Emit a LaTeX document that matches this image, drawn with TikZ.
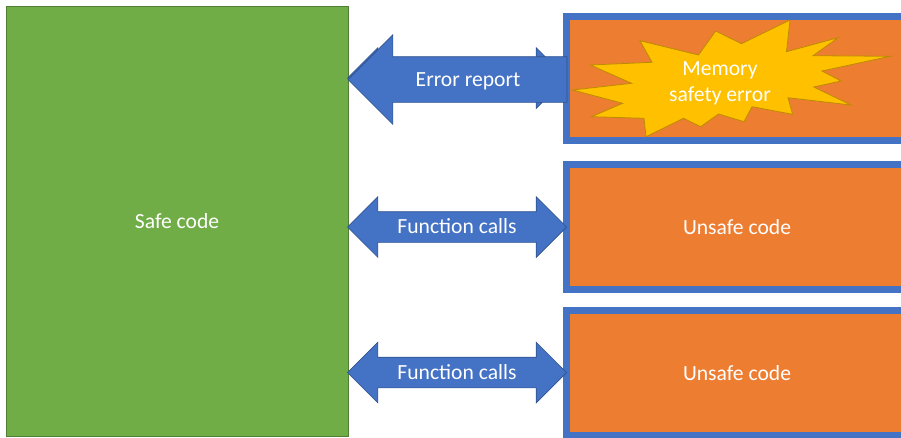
\documentclass[tikz,border=0pt]{standalone}
\usepackage{fontspec}
\setmainfont{Carlito}
\usetikzlibrary{shapes.arrows}
\definecolor{safegreen}{HTML}{70AD47}
\definecolor{safeedge}{HTML}{507E32}
\definecolor{unsafeorange}{HTML}{ED7D31}
\definecolor{callblue}{HTML}{4472C4}
\definecolor{calledge}{HTML}{2F528F}
\definecolor{starfill}{HTML}{FFC000}
\definecolor{staredge}{HTML}{BC8C00}
\tikzset{
    label text/.style={text=white, font=\fontsize{21.6}{26}\selectfont, align=center},
    safe box/.style={label text, draw=safeedge, fill=safegreen, line width=1pt, minimum width=342pt, minimum height=430pt},
    unsafe box/.style={label text, draw=callblue, fill=unsafeorange, line width=7pt, minimum width=341pt, minimum height=125pt},
    call arrow/.style={label text, double arrow, draw=calledge, fill=callblue, line width=0.7pt, minimum width=60pt, minimum height=219pt, double arrow head extend=15pt, double arrow tip angle=90, inner xsep=0pt, inner ysep=8.25pt, text height=13.5pt, text depth=0pt},
    report arrow/.style={single arrow, draw=calledge, fill=callblue, line width=0.7pt, minimum width=89pt, minimum height=219pt, single arrow head extend=22pt, single arrow tip angle=90, shape border rotate=180, inner xsep=0pt, inner ysep=22.5pt}
}
\begin{document}
\begin{tikzpicture}[x=1pt, y=-1pt]
    \useasboundingbox (0,0) rectangle (901,437);

    \node[safe box] (safe) at (177,221) {Safe code};

    \node[unsafe box, minimum height=124pt] (memory) at (737,78.5) {};
    \node[unsafe box] (unsafea) at (737,227) {Unsafe code};
    \node[unsafe box] (unsafeb) at (737,373) {Unsafe code};

    \node[call arrow] (back) at (457,78) {};
    \node[report arrow, anchor=tip] (report) at (347.5,79.5) {};
    \node[label text] (reporttext) at (468,81.5) {Error report};

    \node[call arrow] (callsa) at (457,227) {Function calls};
    \node[call arrow] (callsb) at (457,372.5) {Function calls};

    \draw[draw=staredge, fill=starfill, line width=0.8pt] (790,20) -- (786.5,51.7) -- (838,37.7) -- (813,55.7) -- (890,56.3)
        -- (822,71) -- (841,81) -- (813.7,87) -- (851,105) -- (788,97.7) -- (792.6,114.3) -- (752,106.7)
        -- (744,121.7) -- (718.5,114) -- (700.6,126.7) -- (683.5,118.3) -- (646,136.7) -- (644,118.3)
        -- (591.5,116.7) -- (622.6,103.3) -- (572.6,90) -- (631.6,83.3) -- (590.4,65) -- (652,62.3)
        -- (640,40.7) -- (698.5,55) -- (715.7,31) -- (741.4,43.7) -- cycle;
    \node[label text] (error) at (720,83) {Memory\\safety error};
\end{tikzpicture}
\end{document}
